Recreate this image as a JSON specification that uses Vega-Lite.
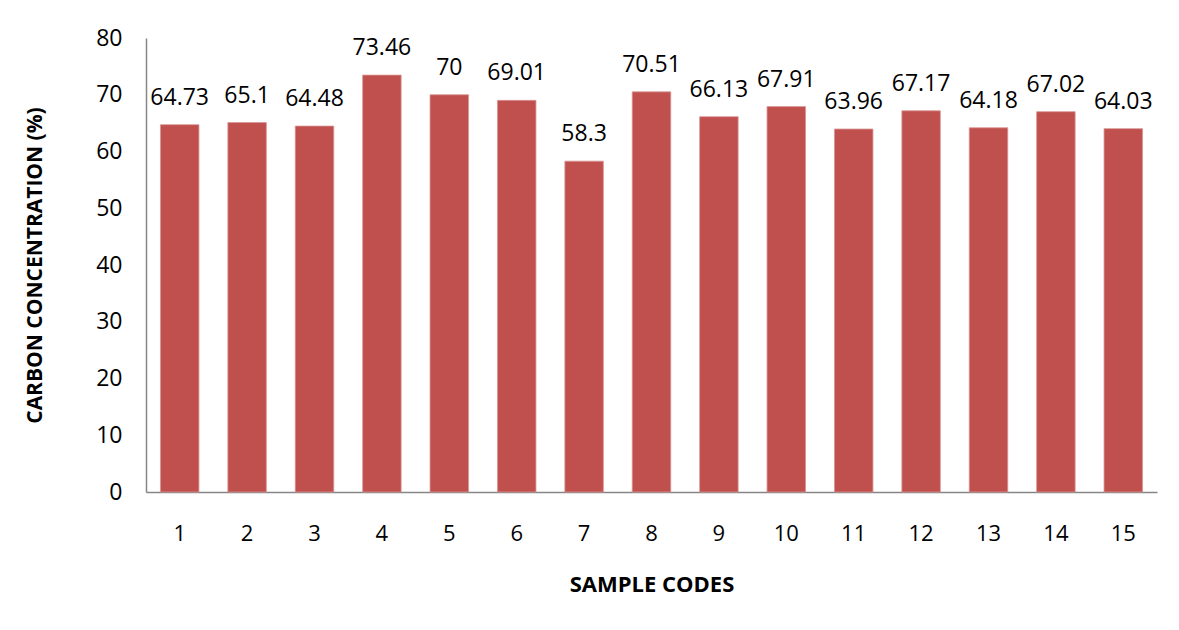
{
  "$schema": "https://vega.github.io/schema/vega-lite/v6.json",
  "width": 1011,
  "height": 454,
  "autosize": "none",
  "padding": {"left": 146, "top": 38, "right": 22, "bottom": 138},
  "background": "white",
  "config": {
    "view": {"stroke": null},
    "font": "Open Sans"
  },
  "data": {
    "values": [
      {"code": "1", "carbon": 64.73},
      {"code": "2", "carbon": 65.1},
      {"code": "3", "carbon": 64.48},
      {"code": "4", "carbon": 73.46},
      {"code": "5", "carbon": 70},
      {"code": "6", "carbon": 69.01},
      {"code": "7", "carbon": 58.3},
      {"code": "8", "carbon": 70.51},
      {"code": "9", "carbon": 66.13},
      {"code": "10", "carbon": 67.91},
      {"code": "11", "carbon": 63.96},
      {"code": "12", "carbon": 67.17},
      {"code": "13", "carbon": 64.18},
      {"code": "14", "carbon": 67.02},
      {"code": "15", "carbon": 64.03}
    ]
  },
  "encoding": {
    "x": {
      "field": "code",
      "type": "ordinal",
      "sort": null,
      "scale": {"paddingInner": 0.4286, "paddingOuter": 0.2143},
      "axis": {
        "title": "SAMPLE CODES",
        "titleFont": "Open Sans",
        "titleFontSize": 22,
        "titleFontWeight": "bold",
        "titleColor": "black",
        "titlePadding": 30,
        "labelAngle": 0,
        "labelFont": "Open Sans",
        "labelFontSize": 22,
        "labelColor": "black",
        "labelPadding": 31,
        "ticks": false,
        "domainColor": "#868686",
        "domainWidth": 1.5
      }
    },
    "y": {
      "field": "carbon",
      "type": "quantitative",
      "scale": {"domain": [0, 80]},
      "axis": {
        "title": "CARBON CONCENTRATION (%)",
        "titleFont": "Open Sans",
        "titleFontSize": 21,
        "titleFontWeight": "bold",
        "titleColor": "black",
        "titlePadding": 50,
        "values": [0, 10, 20, 30, 40, 50, 60, 70, 80],
        "labelFont": "Open Sans",
        "labelFontSize": 23,
        "labelColor": "black",
        "labelPadding": 24,
        "ticks": false,
        "grid": false,
        "domainColor": "#868686",
        "domainWidth": 1.5
      }
    }
  },
  "layer": [
    {"mark": {"type": "bar", "color": "#C0504D", "stroke": "#D99694", "strokeWidth": 0.8}},
    {
      "mark": {"type": "text", "dy": -20, "fontSize": 23, "font": "Open Sans", "color": "black", "baseline": "alphabetic"},
      "encoding": {"text": {"field": "carbon", "type": "quantitative"}}
    }
  ]
}
